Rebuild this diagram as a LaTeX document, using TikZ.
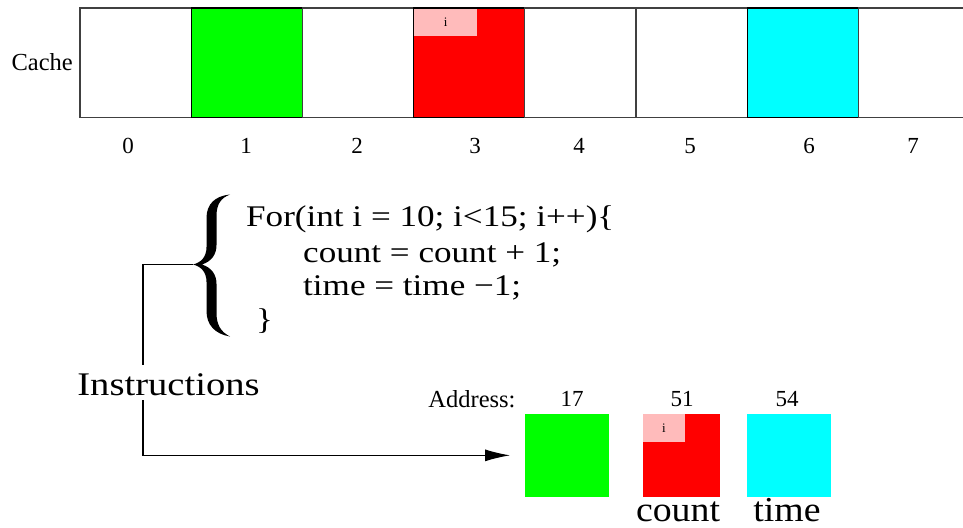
\documentclass[tikz,border=0pt]{standalone}
\usepackage{fontspec}
\setmainfont{Liberation Serif}
\newfontfamily\codefont{Liberation Serif}[FakeStretch=1.17]
\newfontfamily\wordfont{Liberation Serif}[FakeStretch=1.08]
\usetikzlibrary{arrows.meta,calc}
\definecolor{cgreen}{HTML}{00FF00}
\definecolor{cred}{HTML}{FF0000}
\definecolor{ccyan}{HTML}{00FFFF}
\definecolor{cpink}{HTML}{FFBBBB}
\begin{document}
\begin{tikzpicture}[x=1pt,y=-1pt,
  cell/.style={draw=black!75, line width=1.1pt, minimum width=111.2pt, minimum height=109.7pt,
    inner sep=0pt, outer sep=0pt, anchor=north west},
  smallbox/.style={minimum width=84pt, minimum height=82.7pt, inner sep=0pt, outer sep=0pt, anchor=north west},
  tagbox/.style={fill=cpink, inner sep=0pt, outer sep=0pt, anchor=north west, font=\fontsize{13}{15}\selectfont},
  num/.style={font=\fontsize{23}{27}\selectfont, inner sep=0pt},
  lbl/.style={font=\fontsize{24.5}{28}\selectfont, inner sep=0pt},
  code/.style={font=\codefont\fontsize{30}{36}\selectfont, inner sep=0pt, anchor=base west},
  bigword/.style={font=\codefont\fontsize{33}{38}\selectfont, inner sep=0pt, anchor=base},
  varword/.style={font=\wordfont\fontsize{35}{38}\selectfont, inner sep=0pt, anchor=base},
  wire/.style={line width=1.1pt, black}
]
\useasboundingbox (0,0) rectangle (963,527);
\clip (0,0) rectangle (963,527);

% cache row
\node[cell] (c0) at (80,8) {};
\node[cell, fill=cgreen, draw=black] (c1) at (191.2,8) {};
\node[cell] (c2) at (302.4,8) {};
\node[cell, fill=cred, draw=black] (c3) at (413.6,8) {};
\node[cell] (c4) at (524.8,8) {};
\node[cell] (c5) at (636,8) {};
\node[cell, fill=ccyan, draw=black] (c6) at (747.2,8) {};
\node[cell] (c7) at (858.4,8) {};
\node[tagbox, minimum width=63pt, minimum height=27.5pt] (t3) at ($(c3.north west)+(0.6,0.6)$) {i};
\node[lbl, anchor=east] (cachelbl) at (73,62) {Cache};

\node[num] (n0) at (128,146) {0};
\node[num] (n1) at (246,146) {1};
\node[num] (n2) at (357,146) {2};
\node[num] (n3) at (475,146) {3};
\node[num] (n4) at (579,146) {4};
\node[num] (n5) at (690,146) {5};
\node[num] (n6) at (809,146) {6};
\node[num] (n7) at (913,146) {7};

% brace
\fill[black] (230,194.5)
  .. controls (215,196) and (206.5,204) .. (206.5,218) -- (206.5,247)
  .. controls (206.5,257) and (201,262.5) .. (193,264.5)
  .. controls (201,266.5) and (206.5,272) .. (206.5,282) -- (206.5,311)
  .. controls (206.5,325) and (215,334) .. (230,336.5)
  .. controls (221,332) and (216.5,325) .. (216.5,313) -- (216.5,284)
  .. controls (216.5,274) and (211,267.5) .. (202,264.5)
  .. controls (211,261.5) and (216.5,255) .. (216.5,245) -- (216.5,216)
  .. controls (216.5,204) and (221,198) .. (230,194.5) -- cycle;
\coordinate (bracetip) at (193,264.5);

% code
\node[code] (l1) at (246,226) {For(int i = 10; i<15; i++)\{};
\node[code] (l2) at (303,262) {count = count + 1;};
\node[code] (l3) at (303,295) {time = time −1;};
\node[code] (l4) at (256,329) {\}};

\node[bigword] (ins) at (168.5,395) {Instructions};

% memory
\node[smallbox, fill=cgreen] (m1) at (525,414) {};
\node[smallbox, fill=cred, minimum width=77pt] (m2) at (643,414) {};
\node[tagbox, minimum width=42pt, minimum height=28pt] (t2) at (m2.north west) {i};
\node[smallbox, fill=ccyan] (m3) at (747,414) {};
\node[lbl] (addr) at (472,399) {Address:};
\node[num] (a1) at (572,399) {17};
\node[num] (a2) at (682,399) {51};
\node[num] (a3) at (787,399) {54};
\node[varword] (cnt) at (678,521) {count};
\node[varword] (tim) at (787,521) {time};

% connectors
\coordinate (corner) at (143,264.5);
\draw[wire] (bracetip) -- (corner) -- (corner |- 0,365);
\draw[wire, -{Latex[length=25pt,width=12pt]}, shorten >=15pt] (corner |- 0,400) |- (m1.west);
\end{tikzpicture}
\end{document}
